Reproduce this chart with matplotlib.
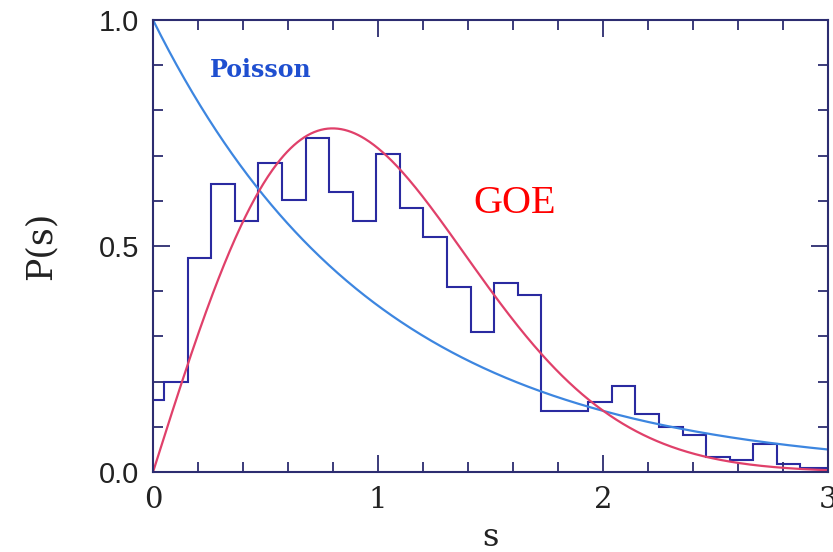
import numpy as np
import matplotlib
matplotlib.use("Agg")
import matplotlib.pyplot as plt
from matplotlib.ticker import MultipleLocator

# Histogram of nearest-neighbour level spacings (bin edges and heights)
bin_width = 0.1047
bin_edges = [0.0, 0.05] + [0.05 + k * bin_width for k in range(1, 29)] + [3.0]
bin_heights = [0.16, 0.20, 0.473, 0.637, 0.555, 0.684, 0.601, 0.738, 0.619, 0.556,
               0.703, 0.583, 0.521, 0.410, 0.310, 0.419, 0.392, 0.136, 0.136, 0.154,
               0.190, 0.128, 0.100, 0.081, 0.034, 0.027, 0.063, 0.017, 0.008, 0.008]

x_ticks = [0, 1, 2, 3]
y_ticks = [0.0, 0.5, 1.0]
y_tick_labels = ["0.0", "0.5", "1.0"]

# Reference distributions: Poisson and Wigner surmise (GOE)
s = np.linspace(0, 3, 600)
poisson = np.exp(-s)
goe = (np.pi / 2) * s * np.exp(-np.pi * s ** 2 / 4)

frame = "#2c2c70"
fig = plt.figure(figsize=(8.33, 5.52), dpi=100)
ax = fig.add_axes([0.1837, 0.1449, 0.8103, 0.8189])

ax.plot(s, poisson, color="#3d86e0", lw=1.6)
ax.plot(s, goe, color="#e0406a", lw=1.6)
ax.stairs(bin_heights, bin_edges, color="#2a2aa0", lw=1.5, baseline=None)

ax.set_xlim(0, 3)
ax.set_ylim(0, 1)
ax.set_xticks(x_ticks)
ax.set_xticklabels([str(t) for t in x_ticks], family="DejaVu Serif", fontsize=21)
ax.set_yticks(y_ticks)
ax.set_yticklabels(y_tick_labels, family="Liberation Sans", fontsize=21)
ax.xaxis.set_minor_locator(MultipleLocator(0.2))
ax.yaxis.set_minor_locator(MultipleLocator(0.1))
ax.tick_params(which="both", direction="in", top=True, right=True,
               color=frame, width=1.3, labelcolor="#222222")
ax.tick_params(which="major", length=12, pad=10)
ax.tick_params(which="minor", length=7)
for sp in ax.spines.values():
    sp.set_color(frame)
    sp.set_linewidth(1.5)

ax.set_xlabel("s", family="DejaVu Serif", fontsize=23, color="#222222", labelpad=6)
ax.set_ylabel("P(s)", family="DejaVu Serif", fontsize=25, color="#222222", labelpad=30)

ax.text(0.253, 0.889, "Poisson", family="DejaVu Serif", fontweight="bold",
        fontsize=17, color="#1f4fd0", va="center", ha="left")
ax.text(1.425, 0.595, "GOE", family="Liberation Serif", fontsize=29,
        color="#ff0000", va="center", ha="left")

fig.savefig("out.png", dpi=100, facecolor="white")
